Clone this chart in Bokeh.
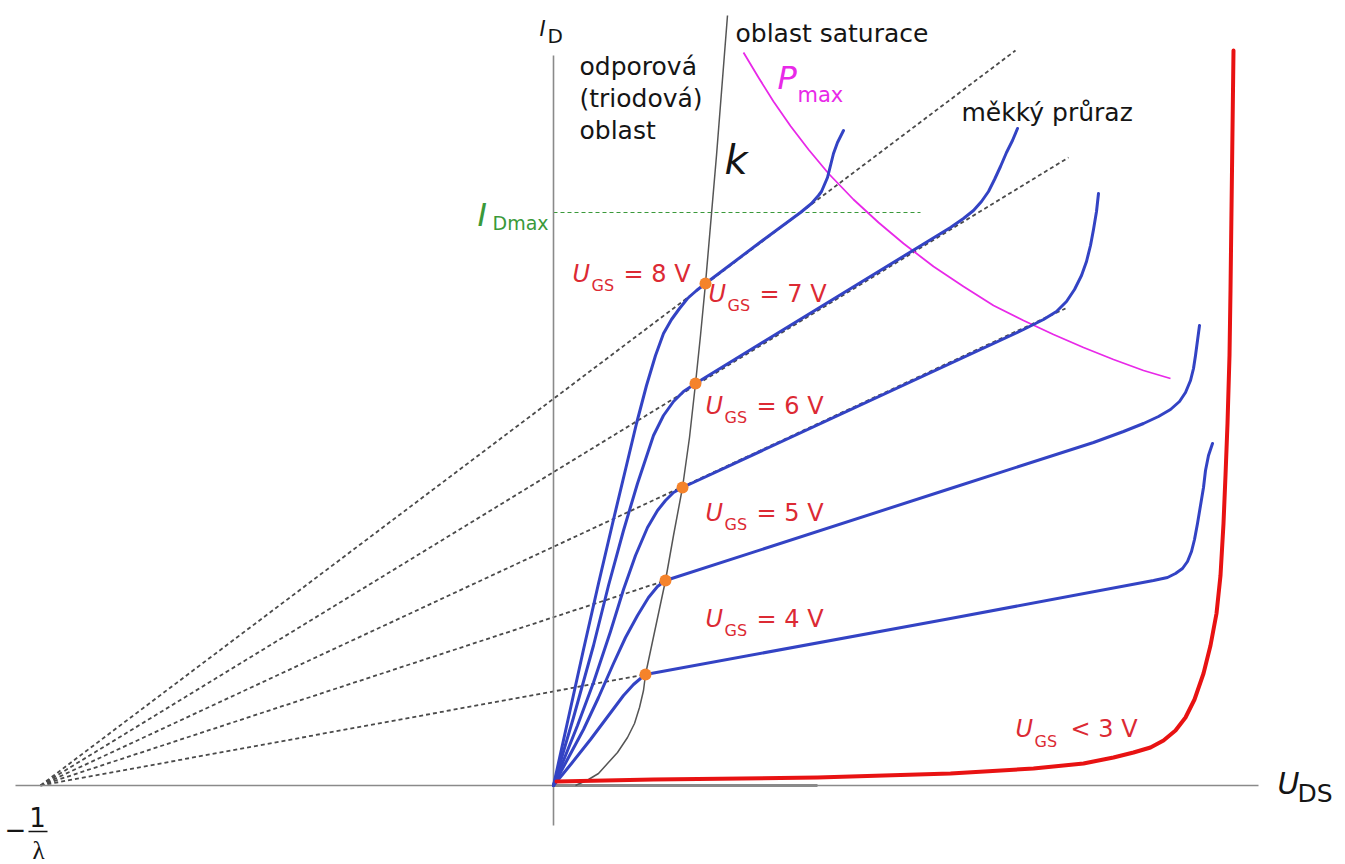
from bokeh.plotting import figure
from bokeh.models import Range1d, Label
from bokeh.embed import file_html
from bokeh.resources import INLINE

# ---------------- data (U_DS, I_D in arbitrary drawing units) ----------------
lambda_x = -51.3          # intercept -1/lambda on the U_DS axis

ugs_names = ["8", "7", "6", "5", "4"]

# output characteristics (triode part + saturation + soft breakdown)
curve_8_x = [0, 1.5, 3.0, 4.5, 6.0, 7.2, 8.3, 9.3, 10.2, 11.0, 11.8, 12.6, 13.4, 14.3, 15.2,
             20.9, 24.7, 25.8, 26.5, 26.8, 27.4, 27.7, 28.0, 28.4, 29.0]
curve_8_y = [0, 6.8, 13.6, 20.2, 26.6, 31.6, 36.2, 40.0, 43.0, 45.2, 46.6, 47.7, 48.7, 49.5, 50.2,
             54.5, 57.3, 58.2, 59.0, 59.4, 60.8, 62.0, 63.2, 64.3, 65.5]
curve_7_x = [0, 2.0, 4.0, 5.5, 7.0, 8.4, 10.0, 11.0, 12.0, 13.0, 14.2,
             39.7, 41.0, 42.0, 42.8, 43.5, 44.1, 44.7, 45.3, 45.9, 46.4]
curve_7_y = [0, 6.8, 14.0, 20.0, 25.5, 30.2, 35.0, 37.0, 38.4, 39.4, 40.2,
             55.8, 56.7, 57.5, 58.4, 59.4, 60.6, 61.9, 63.3, 64.5, 65.7]
curve_6_x = [0, 2.4, 4.0, 5.7, 7.0, 8.2, 9.4, 10.4, 11.2, 12.0, 12.9,
             47.0, 49.0, 50.3, 51.3, 52.1, 52.8, 53.3, 53.7, 54.0, 54.3, 54.5]
curve_6_y = [0, 6.0, 10.3, 15.4, 19.6, 23.0, 25.8, 27.5, 28.5, 29.3, 29.8,
             45.6, 46.6, 47.4, 48.4, 49.6, 51.0, 52.4, 54.0, 55.6, 57.4, 59.2]
curve_5_x = [0, 1.5, 3.0, 4.5, 6.0, 7.2, 8.4, 9.5, 10.4, 11.2,
             39.7, 54.0, 57.0, 59.0, 60.5, 61.7, 62.6, 63.2, 63.7, 64.0, 64.2, 64.4, 64.6]
curve_5_y = [0, 2.8, 5.6, 8.8, 12.2, 14.8, 17.0, 18.8, 19.9, 20.5,
             29.7, 34.3, 35.4, 36.2, 36.9, 37.6, 38.4, 39.3, 40.5, 41.7, 43.0, 44.5, 46.0]
curve_4_x = [0, 1.8, 3.7, 5.5, 7.0, 8.0, 8.7, 9.2,
             39.7, 60.0, 61.4, 62.2, 62.9, 63.4, 63.8, 64.1, 64.4, 64.7, 65.0, 65.2, 65.5, 65.9]
curve_4_y = [0, 2.2, 4.6, 7.0, 9.0, 10.1, 10.7, 11.1,
             16.7, 20.5, 20.8, 21.2, 21.7, 22.4, 23.4, 24.6, 26.2, 28.0, 29.8, 31.5, 33.0, 34.2]

# saturation points (on the k boundary)
sat_x = [15.2, 14.2, 12.9, 11.2, 9.2]
sat_y = [50.2, 40.2, 29.8, 20.5, 11.1]

# end points of the extrapolated (dashed) saturation lines
dash_end_x = [46.2, 51.5, 51.2, 11.2, 9.2]
dash_end_y = [73.5, 62.8, 47.7, 20.5, 11.1]

# U_GS < 3 V (cut-off + hard breakdown)
off_x = [0.3, 10.0, 26.4, 39.7, 48.0, 53.0, 56.0, 58.0, 59.7, 61.0, 62.2, 63.2, 64.1, 65.0, 65.7,
         66.3, 66.7, 67.0, 67.2, 67.4, 67.6, 67.7, 68.0]
off_y = [0.4, 0.6, 0.8, 1.2, 1.7, 2.2, 2.8, 3.3, 3.8, 4.5, 5.5, 6.8, 8.6, 11.2, 14.0,
         17.2, 21.0, 26.2, 31.0, 36.2, 43.0, 49.5, 73.5]

# k boundary (U_DS = U_GS - U_T)
k_x = [2.2, 3.5, 4.5, 5.4, 6.4, 7.4, 8.1, 8.6, 9.0, 9.2, 10.2, 11.2, 12.0, 12.9, 13.6, 14.2, 14.7, 15.2, 16.3, 17.4]
k_y = [0.0, 0.6, 1.2, 2.2, 3.3, 4.8, 6.2, 7.8, 9.5, 11.1, 15.8, 20.5, 25.0, 29.8, 34.8, 40.2, 45.0, 50.2, 63.0, 77.0]
base_x = [0.0, 26.4]
base_y = [0.0, 0.0]

# P_max hyperbola
pmax_x = [19.0, 20.5, 22.0, 23.7, 25.5, 27.5, 30.0, 32.5, 35.0, 38.0, 41.0, 44.0, 47.0, 50.0, 53.0, 56.0, 59.0, 61.7]
pmax_y = [73.3, 70.8, 68.4, 65.95, 63.6, 61.2, 58.6, 56.3, 54.2, 51.9, 49.9, 48.0, 46.5, 45.1, 43.8, 42.6, 41.5, 40.7]

# I_Dmax
idmax_x = [0.0, 36.7]
idmax_y = [57.3, 57.3]

# axes extents
xaxis_x = [-53.8, 70.5]
yaxis_y = [-4.0, 73.0]

# ---------------- figure ----------------
p = figure(width=1345, height=864, output_backend="svg", toolbar_location=None,
           x_range=Range1d(-55.3, 79.2), y_range=Range1d(-7.9, 78.5),
           x_axis_location=None, y_axis_location=None, min_border=0)
p.grid.visible = False
p.outline_line_color = None
p.background_fill_color = "white"

DASH_GRAY = "#4a4a4a"
BLUE = "#3343c4"
RED = "#e81212"
LABEL_RED = "#dc2a34"
MAGENTA = "#e829e8"
GREEN = "#3a993a"
ORANGE = "#f5832b"
TXT = "#151515"

# dashed extrapolation lines to -1/lambda
for ex, ey in zip(dash_end_x, dash_end_y):
    p.line([lambda_x, ex], [0, ey], line_color=DASH_GRAY, line_width=1.8, line_dash="4 3")

# I_Dmax line
p.line(idmax_x, idmax_y, line_color=GREEN, line_width=1.1, line_dash="4 3")

# axes
p.line(xaxis_x, [0, 0], line_color="#8a8a8a", line_width=1.6)
p.line([0, 0], yaxis_y, line_color="#8a8a8a", line_width=1.6)
p.line(base_x, base_y, line_color="#8a8a8a", line_width=3)

# k curve
p.line(k_x, k_y, line_color="#555555", line_width=1.5, line_join="round")

# Pmax
p.line(pmax_x, pmax_y, line_color=MAGENTA, line_width=1.8, line_join="round")

# characteristics
for cx, cy in [(curve_8_x, curve_8_y), (curve_7_x, curve_7_y), (curve_6_x, curve_6_y),
               (curve_5_x, curve_5_y), (curve_4_x, curve_4_y)]:
    p.line(cx, cy, line_color=BLUE, line_width=3, line_join="round", line_cap="round")

p.line(off_x, off_y, line_color=RED, line_width=4, line_join="round", line_cap="round")

p.scatter(sat_x, sat_y, size=12, fill_color=ORANGE, line_color=None)

# ---------------- texts ----------------
def lab(text, x, y, size, color=TXT, style="normal", font="DejaVu Sans", align="left"):
    # y is the baseline; raise by the renderer's baseline offset
    p.add_layout(Label(x=x, y=y + 0.04 * size, text=text, text_font=font,
                       text_font_size=f"{size}px", text_font_style=style,
                       text_color=color, text_align=align, text_baseline="alphabetic"))

lab("I", -1.4, 74.8, 21, style="italic")
lab("D", -0.6, 74.2, 20)
lab("odporová", 2.6, 70.9, 25)
lab("(triodová)", 2.6, 67.7, 25)
lab("oblast", 2.6, 64.5, 25)
lab("oblast saturace", 18.2, 74.2, 25)
lab("k", 17.1, 61.0, 40, style="italic")
lab("P", 22.4, 69.5, 32, color=MAGENTA, style="italic")
lab("max", 24.4, 68.2, 21, color=MAGENTA)
lab("měkký průraz", 40.8, 66.3, 25)
lab("I", -7.6, 55.8, 32, color=GREEN, style="italic")
lab("Dmax", -6.1, 55.5, 19, color=GREEN)

ugs_pos = [(1.9, 50.2), (15.5, 48.2), (15.2, 37.0), (15.2, 26.3), (15.2, 15.7)]
for name, (ux, uy) in zip(ugs_names, ugs_pos):
    lab("U", ux, uy, 24, color=LABEL_RED, style="italic")
    lab("GS", ux + 1.9, uy - 0.8, 16, color=LABEL_RED)
    lab(f"= {name} V", ux + 5.1, uy, 24, color=LABEL_RED)
lab("U", 46.2, 4.7, 24, color=LABEL_RED, style="italic")
lab("GS", 48.1, 3.8, 16, color=LABEL_RED)
lab("< 3 V", 51.7, 4.7, 24, color=LABEL_RED)

lab("U", 72.4, -1.0, 30, style="italic")
lab("DS", 74.4, -1.8, 25)

lab("−", -53.8, -5.4, 26, align="center")
lab("1", -51.6, -4.2, 26, align="center")
p.segment(x0=[-52.5], y0=[-4.6], x1=[-50.6], y1=[-4.6], line_color=TXT, line_width=1.5)
lab("λ", -51.5, -7.5, 25, font="Liberation Serif", align="center")

open("out.html", "w").write(file_html(p, INLINE))
